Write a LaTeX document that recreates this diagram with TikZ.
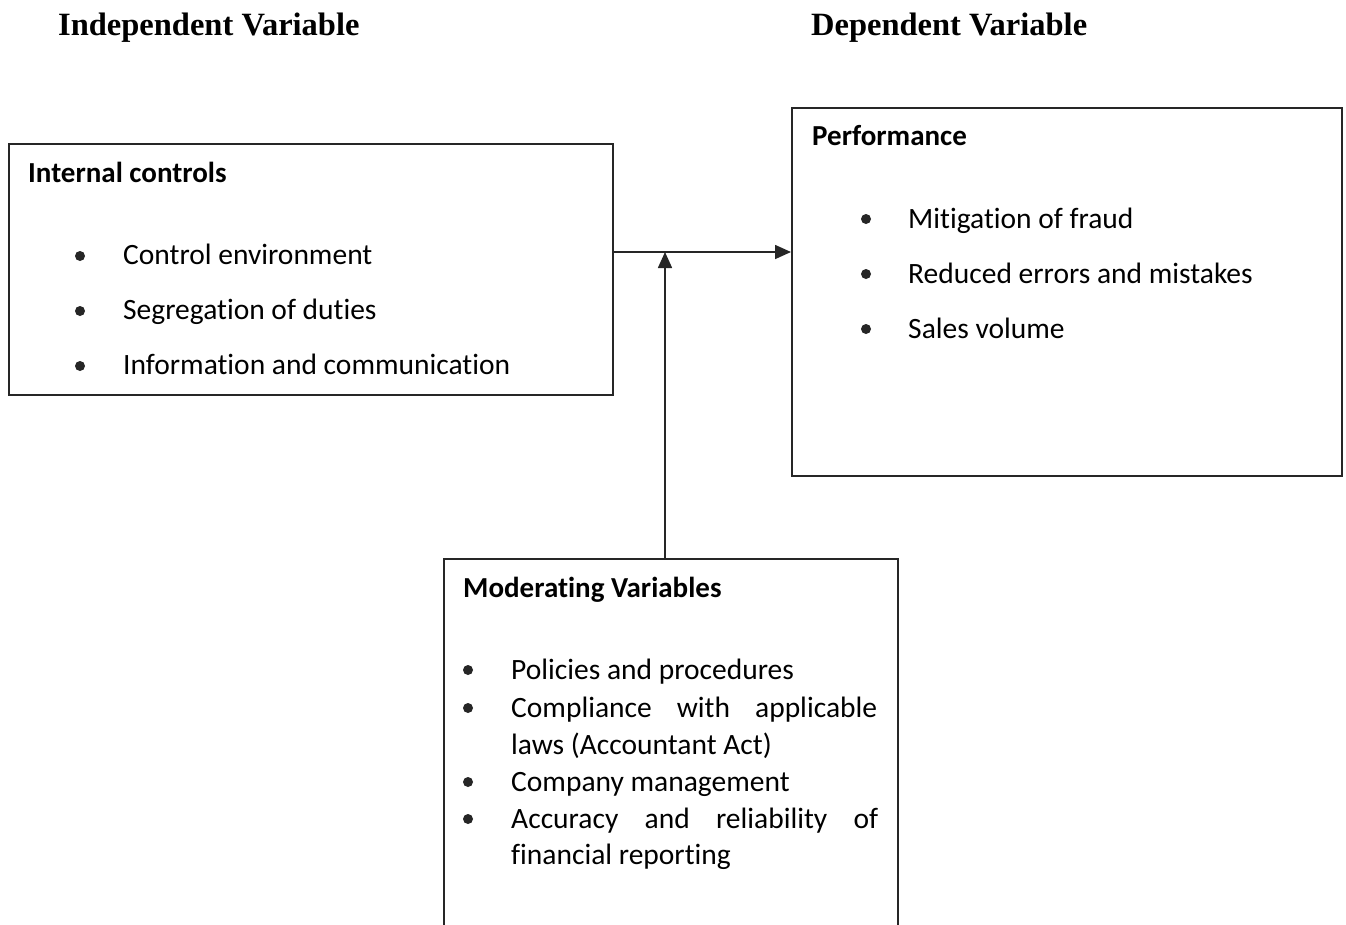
\documentclass[tikz,border=0pt]{standalone}
\usepackage{fontspec}
\setmainfont[RawFeature=-liga]{Carlito}
\newfontfamily\hdfont{Liberation Serif}
\usetikzlibrary{arrows.meta}
\tikzset{
  box/.style={draw=black!85, line width=1.6pt},
  hd/.style={anchor=base west, inner sep=0pt, font=\hdfont\bfseries\fontsize{32.5}{36}\selectfont},
  ttl/.style={anchor=base west, inner sep=0pt, font=\bfseries\fontsize{29}{32}\selectfont},
  itm/.style={anchor=base west, inner sep=0pt, font=\fontsize{29.5}{32}\selectfont},
  bul/.style={circle, fill=black!85, inner sep=0pt, minimum size=10pt},
  conn/.style={line width=1.6pt, draw=black!85, -{Triangle[length=16pt,width=14pt]}}
}
\begin{document}
\begin{tikzpicture}[x=1pt,y=-1pt]
\clip (0,0) rectangle (1346,924);
\fill[white] (0,0) rectangle (1346,924);
% headers
\node[hd] (hi) at (58,35) {Independent Variable};
\node[hd] (hd) at (811,35) {Dependent Variable};
% boxes
\node[box, minimum width=604pt, minimum height=251pt, anchor=north west] (ic) at (8,143) {};
\node[box, minimum width=550pt, minimum height=368pt, anchor=north west] (pf) at (791,107) {};
\node[box, minimum width=454pt, minimum height=400pt, anchor=north west] (mv) at (443,558) {};
% internal controls
\node[ttl] (ict) at (28,182) {Internal controls};
\node[bul] (ib1) at (80,256) {};
\node[itm] (i1) at (123,264) {Control environment};
\node[bul] (ib2) at (80,311) {};
\node[itm] (i2) at (123,319) {Segregation of duties};
\node[bul] (ib3) at (80,366) {};
\node[itm] (i3) at (123,374) {Information and communication};
% performance
\node[ttl] (pft) at (812,145) {Performance};
\node[bul] (pb1) at (866,219) {};
\node[itm] (p1) at (908,228) {Mitigation of fraud};
\node[bul] (pb2) at (866,274) {};
\node[itm] (p2) at (908,283) {Reduced errors and mistakes};
\node[bul] (pb3) at (866,329) {};
\node[itm] (p3) at (908,338) {Sales volume};
% moderating
\node[ttl] (mvt) at (463,597) {Moderating Variables};
\node[bul] (mb1) at (468,670) {};
\node[itm] (m1) at (511,679) {Policies and procedures};
\node[bul] (mb2) at (468,708) {};
\node[itm] (m2) at (511,717) {\makebox[366pt][s]{Compliance with applicable}};
\node[itm] (m2b) at (511,754) {laws (Accountant Act)};
\node[bul] (mb3) at (468,782) {};
\node[itm] (m3) at (511,791) {Company management};
\node[bul] (mb4) at (468,819) {};
\node[itm] (m4) at (511,828) {\makebox[367pt][s]{Accuracy and reliability of}};
\node[itm] (m4b) at (511,864) {financial reporting};
% connectors
\coordinate (j) at (665,252);
\draw[conn] (ic.east |- j) -- (pf.west |- j);
\draw[conn] (mv.north -| j) -- (j);
\end{tikzpicture}
\end{document}
